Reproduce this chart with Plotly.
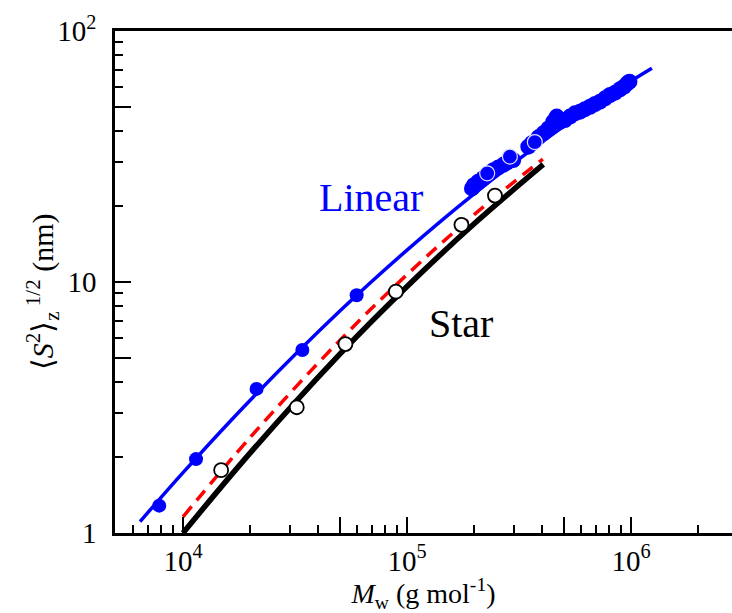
import plotly.graph_objects as go
import numpy as np

# ---- data ----
# Linear: individual filled points
lin_M = [7830, 11430, 21300, 34100, 59600]
lin_S = [1.285, 1.97, 3.75, 5.36, 8.85]

# Linear: dense high-M data (filled blue)
lin2_M = [195000, 199000, 208000, 219000, 243000, 256000, 269000, 279000, 298000,
          348000, 361000, 386000, 406000, 428000, 450000, 466000, 482000,
          507000, 534000, 562000, 592000, 623000, 656000, 691000, 727000,
          766000, 806000, 849000, 893000, 931000, 963000, 984000]
lin2_S = [23.6, 24.3, 25.1, 25.9, 27.9, 28.6, 29.3, 29.9, 30.6,
          34.6, 35.7, 37.7, 39.1, 40.9, 43.5, 45.6, 43.5,
          44.2, 45.6, 47.0, 47.7, 48.8, 49.9, 51.2, 52.3,
          53.9, 55.6, 56.8, 58.6, 60.0, 61.9, 62.8]

# Linear: filled points with white rim
lin3_M = [228000, 288000, 372000]
lin3_S = [27.1, 31.6, 36.1]

# Linear: theory curve
lin_line_M = [6430, 10000, 20000, 50000, 100000, 200000, 500000, 1000000, 1240000]
lin_line_S = [1.11, 1.74, 3.39, 7.64, 13.4, 22.5, 41.7, 63.1, 71.0]

# Star: open circles
star_M = [14800, 32200, 53100, 89200, 175000, 247000]
star_S = [1.78, 3.17, 5.66, 9.15, 16.9, 22.1]

# Star: solid black curve
star_line_M = [10000, 20000, 50000, 100000, 200000, 406000]
star_line_S = [1.0, 2.09, 5.15, 9.6, 17.1, 29.4]

# Star: red dashed curve
red_line_M = [10000, 20000, 50000, 100000, 200000, 404000]
red_line_S = [1.16, 2.41, 5.84, 10.7, 18.6, 30.9]

# ticks
x_major = [1e4, 5e4, 1e5, 5e5, 1e6]
x_major_text = ["10<sup>4</sup>", "", "10<sup>5</sup>", "", "10<sup>6</sup>"]
x_minor = [6e3, 7e3, 8e3, 9e3, 2e4, 3e4, 4e4, 6e4, 7e4, 8e4, 9e4,
           2e5, 3e5, 4e5, 6e5, 7e5, 8e5, 9e5, 2e6]
y_major = [1, 5, 10, 50, 100]
y_major_text = ["1", "", "10", "", "10<sup>2</sup>"]
y_minor = [2, 3, 4, 6, 7, 8, 9, 20, 30, 40, 60, 70, 80, 90]

FONT = "Liberation Serif, Times New Roman, serif"
BLUE = "#0000FF"

fig = go.Figure()

fig.add_trace(go.Scatter(x=lin_line_M, y=lin_line_S, mode="lines",
                         line=dict(color=BLUE, width=3.5, shape="spline"),
                         showlegend=False))
fig.add_trace(go.Scatter(x=red_line_M, y=red_line_S, mode="lines",
                         line=dict(color="#FF0000", width=3.5, dash="13px,8px", shape="spline"),
                         showlegend=False))
fig.add_trace(go.Scatter(x=star_line_M, y=star_line_S, mode="lines",
                         line=dict(color="black", width=5.5, shape="spline"),
                         showlegend=False))
fig.add_trace(go.Scatter(x=lin_M, y=lin_S, mode="markers",
                         marker=dict(color=BLUE, size=14, line=dict(width=0)),
                         showlegend=False))
fig.add_trace(go.Scatter(x=lin2_M, y=lin2_S, mode="markers",
                         marker=dict(color=BLUE, size=16, line=dict(width=0)),
                         showlegend=False))
fig.add_trace(go.Scatter(x=lin3_M, y=lin3_S, mode="markers",
                         marker=dict(color=BLUE, size=15, line=dict(width=1.2, color="#E0E0FF")),
                         showlegend=False))
fig.add_trace(go.Scatter(x=star_M, y=star_S, mode="markers",
                         marker=dict(color="white", size=14, line=dict(width=1.8, color="black")),
                         showlegend=False))

fig.add_annotation(text="Linear", xref="paper", yref="paper", x=0.415, y=0.669,
                   xanchor="center", yanchor="middle",
                   showarrow=False, font=dict(family=FONT, size=40, color=BLUE))
fig.add_annotation(text="Star", xref="paper", yref="paper", x=0.561, y=0.418,
                   xanchor="center", yanchor="middle",
                   showarrow=False, font=dict(family=FONT, size=40, color="black"))
fig.add_annotation(text="\u27e8<i>S</i><sup>2</sup>\u27e9<sub>z</sub><sup> 1/2</sup> (nm)",
                   xref="paper", yref="paper", x=-0.118, y=0.48,
                   xanchor="center", yanchor="middle", textangle=-90,
                   showarrow=False, font=dict(family=FONT, size=30, color="black"))

fig.update_layout(
    width=732, height=613,
    margin=dict(l=115, r=0, t=31, b=80),
    paper_bgcolor="white", plot_bgcolor="white",
    font=dict(family=FONT, size=29, color="black"),
    xaxis=dict(
        type="log", range=[np.log10(4970), 6.4509],
        showline=True, linecolor="black", linewidth=2.5, mirror=True,
        showgrid=False, zeroline=False,
        ticks="inside", ticklen=16, tickwidth=2, tickcolor="black",
        tickmode="array", tickvals=x_major, ticktext=x_major_text,
        tickfont=dict(family=FONT, size=29, color="black"),
        ticklabelstandoff=0,
        minor=dict(ticks="inside", ticklen=8, tickwidth=2, tickcolor="black",
                   tickmode="array", tickvals=x_minor, showgrid=False),
        title=dict(text="<i>M</i><sub>w</sub> (g mol<sup>-1</sup>)",
                   font=dict(family=FONT, size=28, color="black"), standoff=0),
    ),
    yaxis=dict(
        type="log", range=[0, 2],
        showline=True, linecolor="black", linewidth=2.5, mirror=False,
        showgrid=False, zeroline=False,
        ticks="inside", ticklen=16, tickwidth=2, tickcolor="black",
        tickmode="array", tickvals=y_major, ticktext=y_major_text,
        tickfont=dict(family=FONT, size=29, color="black"),
        ticklabelstandoff=10,
        minor=dict(ticks="inside", ticklen=8, tickwidth=2, tickcolor="black",
                   tickmode="array", tickvals=y_minor, showgrid=False),
    ),
)

fig.write_html("out.html")
